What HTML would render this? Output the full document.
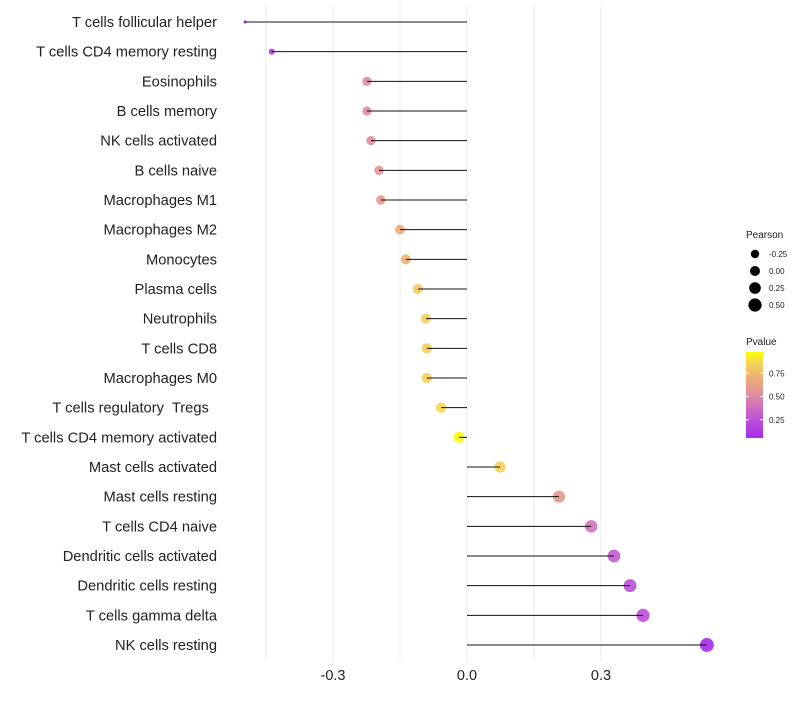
<!DOCTYPE html>
<html><head><meta charset="utf-8"><style>
body{margin:0;background:#fff;font-family:"Liberation Sans",sans-serif}
text{white-space:pre}
</style></head><body>
<svg id="c" width="800" height="700" xmlns="http://www.w3.org/2000/svg"></svg>
<script>
const categories=["T cells follicular helper","T cells CD4 memory resting","Eosinophils","B cells memory","NK cells activated","B cells naive","Macrophages M1","Macrophages M2","Monocytes","Plasma cells","Neutrophils","T cells CD8","Macrophages M0","T cells regulatory  Tregs  ","T cells CD4 memory activated","Mast cells activated","Mast cells resting","T cells CD4 naive","Dendritic cells activated","Dendritic cells resting","T cells gamma delta","NK cells resting"];
const pearson=[-0.497,-0.437,-0.224,-0.224,-0.215,-0.197,-0.193,-0.150,-0.137,-0.110,-0.092,-0.090,-0.090,-0.058,-0.018,0.074,0.206,0.278,0.329,0.365,0.394,0.537];
const pvalue=[0.08,0.12,0.52,0.52,0.52,0.58,0.6,0.7,0.72,0.83,0.86,0.86,0.86,0.9,0.99,0.86,0.6,0.4,0.3,0.25,0.22,0.05];
const xTicks=[-0.3,0,0.3];
const xTickLabels=["-0.3","0.0","0.3"];
const sizeTicks=[-0.25,0,0.25,0.5];
const sizeTickLabels=["-0.25","0.00","0.25","0.50"];
const pTicks=[0.75,0.5,0.25];
const pTickLabels=["0.75","0.50","0.25"];

const NS="http://www.w3.org/2000/svg",svg=document.getElementById('c');
function el(t,a,p){const e=document.createElementNS(NS,t);for(const k in a)e.setAttribute(k,a[k]);(p||svg).appendChild(e);return e;}
const x=v=>467+v*446.7;
const y=i=>22+i*29.667;
function rad(v){const d=[-0.5,-0.44,-0.22,0,0.55],r=[1.5,3,4.6,5.5,7];
 if(v<=d[0])return r[0];for(let i=1;i<d.length;i++)if(v<=d[i])return r[i-1]+(r[i]-r[i-1])*(v-d[i-1])/(d[i]-d[i-1]);return r[r.length-1];}
function lerp(a,b,t){return a.map((v,i)=>Math.round(v+(b[i]-v)*t));}
function col(p){const s=[[0,[160,32,240]],[0.3,[195,90,210]],[0.5,[222,135,165]],[0.72,[238,175,115]],[0.88,[246,212,90]],[1,[255,255,0]]];
 for(let i=1;i<s.length;i++)if(p<=s[i][0]){const c=lerp(s[i-1][1],s[i][1],(p-s[i-1][0])/(s[i][0]-s[i-1][0]));return `rgb(${c})`;}return 'rgb(255,255,0)';}

[-0.45,-0.15,0.15].concat(xTicks).forEach(v=>{const g=el('line',{x1:x(v),x2:x(v),y1:5,y2:662,stroke:'#ebebeb','stroke-width':1});
});
xTicks.forEach((v,i)=>{const t=el('text',{x:x(v),y:680,'text-anchor':'middle','font-size':14.5,fill:'#222'});t.textContent=xTickLabels[i];
});
categories.forEach((c,i)=>{
 const t=el('text',{x:217,y:y(i)+5,'text-anchor':'end','font-size':14.7,fill:'#222'});t.textContent=c;
 
 const d=el('circle',{cx:x(pearson[i]),cy:y(i),r:rad(pearson[i]),fill:col(pvalue[i]),'fill-opacity':0.9});
 
 const l=el('line',{x1:x(0),x2:x(pearson[i]),y1:y(i),y2:y(i),stroke:'#111','stroke-width':1});
 
});
let t=el('text',{x:746,y:238,'font-size':10,fill:'#222'});t.textContent='Pearson';

sizeTicks.forEach((v,i)=>{const yy=254+i*17;
 const c=el('circle',{cx:755,cy:yy,r:4.2+i*0.8,fill:'#000'});
 const tt=el('text',{x:769,y:yy+3,'font-size':8,fill:'#222'});tt.textContent=sizeTickLabels[i];
 });
t=el('text',{x:746,y:345,'font-size':10,fill:'#222'});t.textContent='Pvalue';

const defs=el('defs',{});const g=el('linearGradient',{id:'pg',x1:0,y1:1,x2:0,y2:0},defs);
[0.05,0.3,0.5,0.72,0.88,1].forEach(p=>el('stop',{offset:(p-0.05)/0.95,'stop-color':col(p)},g));
const cb=el('rect',{x:746,y:352,width:17,height:86,fill:'url(#pg)'});
const py=p=>443-p*93;
pTicks.forEach((p,i)=>{el('line',{x1:746,x2:749,y1:py(p),y2:py(p),stroke:'#fff'});el('line',{x1:760,x2:763,y1:py(p),y2:py(p),stroke:'#fff'});
 const tt=el('text',{x:769,y:py(p)+3,'font-size':8,fill:'#222'});tt.textContent=pTickLabels[i];
 });
</script>
</body></html>
